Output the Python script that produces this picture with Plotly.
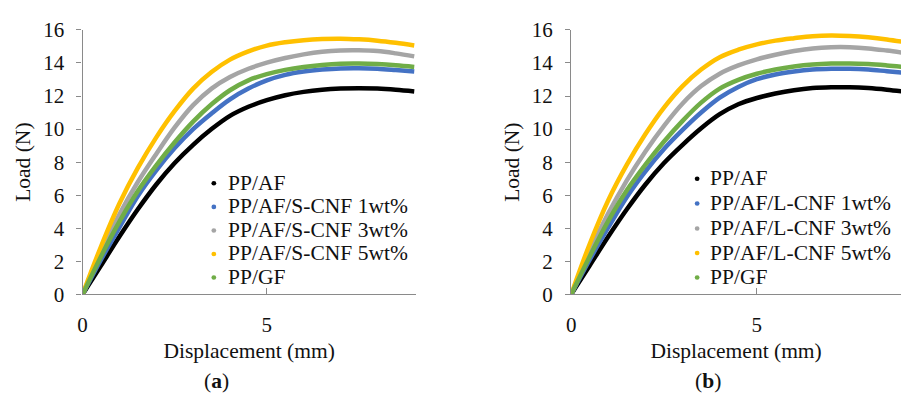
import plotly.graph_objects as go

# Displacement grid (mm) shared by all load curves
displacement = [0, 0.5, 1, 1.5, 2, 2.5, 3, 3.5, 4, 4.5, 5, 5.5, 6, 6.5, 7, 7.5, 8, 8.5, 9]

# (a) short CNF series, load in N
a_pp_af = [0, 1.75, 3.5, 5.15, 6.65, 7.95, 9.05, 10.0, 10.8, 11.35, 11.75, 12.05, 12.25, 12.38, 12.45, 12.47, 12.45, 12.38, 12.28]
a_s1 = [0, 2.1, 4.05, 5.95, 7.5, 8.85, 10.0, 10.95, 11.8, 12.45, 12.95, 13.28, 13.48, 13.6, 13.67, 13.68, 13.65, 13.57, 13.48]
a_s3 = [0, 2.55, 4.85, 6.8, 8.5, 10.1, 11.45, 12.45, 13.15, 13.65, 14.02, 14.3, 14.52, 14.68, 14.76, 14.77, 14.72, 14.58, 14.4]
a_s5 = [0, 2.9, 5.5, 7.65, 9.5, 11.1, 12.45, 13.45, 14.2, 14.7, 15.05, 15.25, 15.38, 15.45, 15.47, 15.43, 15.35, 15.22, 15.06]
a_pp_gf = [0, 2.3, 4.4, 6.25, 7.8, 9.2, 10.45, 11.5, 12.35, 12.95, 13.32, 13.58, 13.76, 13.88, 13.95, 13.96, 13.93, 13.86, 13.76]

# (b) long CNF series, load in N
b_pp_af = [0, 1.75, 3.5, 5.15, 6.65, 7.95, 9.05, 10.05, 10.9, 11.5, 11.88, 12.15, 12.35, 12.48, 12.53, 12.53, 12.48, 12.38, 12.25]
b_l1 = [0, 2.1, 4.05, 5.9, 7.45, 8.8, 9.95, 11.0, 11.9, 12.55, 13.02, 13.3, 13.48, 13.6, 13.65, 13.65, 13.6, 13.5, 13.4]
b_l3 = [0, 2.6, 4.9, 6.9, 8.65, 10.2, 11.55, 12.6, 13.35, 13.85, 14.22, 14.5, 14.72, 14.88, 14.95, 14.95, 14.88, 14.75, 14.6]
b_l5 = [0, 3.05, 5.7, 7.85, 9.7, 11.3, 12.6, 13.6, 14.35, 14.8, 15.12, 15.35, 15.5, 15.62, 15.66, 15.63, 15.55, 15.42, 15.25]
b_pp_gf = [0, 2.3, 4.45, 6.3, 7.85, 9.25, 10.5, 11.6, 12.45, 12.98, 13.35, 13.6, 13.78, 13.9, 13.96, 13.97, 13.93, 13.85, 13.75]

names_a = ["PP/AF", "PP/AF/S-CNF 1wt%", "PP/AF/S-CNF 3wt%", "PP/AF/S-CNF 5wt%", "PP/GF"]
names_b = ["PP/AF", "PP/AF/L-CNF 1wt%", "PP/AF/L-CNF 3wt%", "PP/AF/L-CNF 5wt%", "PP/GF"]
colors = ["#000000", "#4472C4", "#A5A5A5", "#FFC000", "#70AD47"]

x_ticks = [0, 5]
y_ticks = [0, 2, 4, 6, 8, 10, 12, 14, 16]

FONT = "Liberation Serif"
TXT = "#111111"
W, H = 901, 410

fig = go.Figure()

panels = [
    ("x", "y", names_a, [a_pp_af, a_s1, a_s3, a_s5, a_pp_gf]),
    ("x2", "y2", names_b, [b_pp_af, b_l1, b_l3, b_l5, b_pp_gf]),
]
for xa, ya, names, series in panels:
    for name, color, loads in zip(names, colors, series):
        fig.add_trace(go.Scatter(
            x=displacement, y=loads, xaxis=xa, yaxis=ya, mode="lines", name=name,
            line=dict(color=color, width=4.5, shape="spline", smoothing=1.0),
            showlegend=False, hoverinfo="skip"))

axis_line = "#8a8a8a"
common_x = dict(showgrid=False, zeroline=False, showline=True, linecolor=axis_line,
                linewidth=1.3, ticks="inside", ticklen=6, tickcolor=axis_line,
                tickvals=x_ticks, tickfont=dict(family=FONT, size=21, color=TXT),
                ticklabelstandoff=11,
                title=dict(text="Displacement (mm)", font=dict(family=FONT, size=21.5, color=TXT),
                           standoff=7))
common_y = dict(showgrid=False, zeroline=False, showline=True, linecolor=axis_line,
                linewidth=1.3, ticks="outside", ticklen=5, tickcolor=axis_line,
                tickvals=y_ticks, range=[0, 16], tickfont=dict(family=FONT, size=21, color=TXT),
                ticklabelstandoff=8,
                title=dict(text="Load (N)", font=dict(family=FONT, size=21.5, color=TXT),
                           standoff=6))

y_dom = [(H - 300) / H, (H - 19) / H]

# Key for each panel: coloured dot + series name
annotations = []
shapes = []
legend_specs = [
    (names_a, 210, 222, [180, 205, 230, 255, 280]),
    (names_b, 696, 707, [175, 201.5, 228, 254, 280]),
]
for names, dot_x, text_x, rows in legend_specs:
    for name, color, row in zip(names, colors, rows):
        annotations.append(dict(
            text=name, x=text_x / W, y=1 - (row + 1.5) / H, xref="paper", yref="paper",
            xanchor="left", yanchor="middle", showarrow=False,
            font=dict(family=FONT, size=21.5, color=TXT)))
        r = 2.4
        shapes.append(dict(
            type="circle", xref="paper", yref="paper",
            x0=(dot_x - r) / W, x1=(dot_x + r) / W,
            y0=1 - (row + 2 + r) / H, y1=1 - (row + 2 - r) / H,
            fillcolor=color, line=dict(width=0)))

annotations += [
    dict(text="(<b>a</b>)", x=213 / W, y=1 - 392 / H, xref="paper", yref="paper",
         xanchor="center", yanchor="middle", showarrow=False,
         font=dict(family=FONT, size=21.5, color=TXT)),
    dict(text="(<b>b</b>)", x=707 / W, y=1 - 392 / H, xref="paper", yref="paper",
         xanchor="center", yanchor="middle", showarrow=False,
         font=dict(family=FONT, size=21.5, color=TXT)),
]

fig.update_layout(
    width=W, height=H, margin=dict(l=0, r=0, t=0, b=0),
    paper_bgcolor="white", plot_bgcolor="white",
    font=dict(family=FONT, color=TXT),
    showlegend=False,
    xaxis=dict(common_x, domain=[78 / W, 413 / W], range=[0, 9.04]),
    yaxis=dict(common_y, domain=y_dom, anchor="x"),
    xaxis2=dict(common_x, domain=[569.3 / W, 1.0], range=[0, 8.88], anchor="y2"),
    yaxis2=dict(common_y, domain=y_dom, anchor="x2"),
    annotations=annotations,
    shapes=shapes,
)

fig.write_html("out.html")
